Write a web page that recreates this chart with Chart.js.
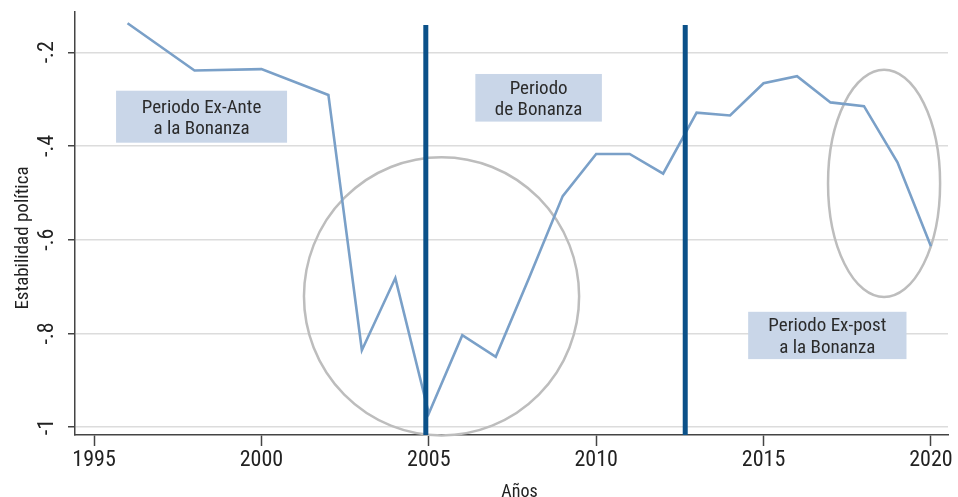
<!DOCTYPE html>
<html>
<head>
<meta charset="utf-8">
<script src="https://cdn.jsdelivr.net/npm/chart.js@4.4.1/dist/chart.umd.min.js"></script>
<style>
  html, body { margin: 0; padding: 0; background: #ffffff; }
  #wrap { width: 958px; height: 497px; }
</style>
</head>
<body>
<div id="wrap"><canvas id="c" width="958" height="497"></canvas></div>
<script>
// ---- data ----
const years = [1996, 1998, 2000, 2002, 2003, 2004, 2005, 2006, 2007, 2008, 2009, 2010, 2011, 2012, 2013, 2014, 2015, 2016, 2017, 2018, 2019, 2020];
const stability = [-0.138, -0.239, -0.236, -0.291, -0.836, -0.682, -0.971, -0.804, -0.850, -0.681, -0.507, -0.417, -0.417, -0.459, -0.329, -0.335, -0.266, -0.251, -0.307, -0.315, -0.435, -0.614];
const bonanzaStart = 2004.91;
const bonanzaEnd = 2012.66;
const xTicks = [1995, 2000, 2005, 2010, 2015, 2020];
const yTicks = [-1, -0.8, -0.6, -0.4, -0.2];
const yTickLabels = ['-1', '-.8', '-.6', '-.4', '-.2'];
const xTitle = 'Años';
const yTitle = 'Estabilidad política';
const boxTexts = [
  ['Periodo Ex-Ante', 'a la Bonanza'],
  ['Periodo', 'de Bonanza'],
  ['Periodo Ex-post', 'a la Bonanza']
];

const FONT = "'Liberation Sans Narrow', 'Arial Narrow', 'Roboto Condensed', 'DejaVu Sans Condensed', sans-serif";
const xMin = 1994.43, xMax = 2020.51, yMin = -1.017, yMax = -0.114;
const lineTop = -0.142;

// annotation geometry (data units)
const boxes = [
  { x0: 1995.657, x1: 2000.765, y0: -0.282, y1: -0.393, text: boxTexts[0] },
  { x0: 2006.39, x1: 2010.17, y0: -0.2463, y1: -0.348, text: boxTexts[1] },
  { x0: 2014.54, x1: 2019.27, y0: -0.754, y1: -0.855, text: boxTexts[2] }
];
const ellipses = [
  { cx: 2005.38, cy: -0.721, rx: 4.11, ry: 0.297 },
  { cx: 2018.6, cy: -0.480, rx: 1.674, ry: 0.2425 }
];

const seriesPoints = years.map((y, i) => ({ x: y, y: stability[i] }));

const annotPlugin = {
  id: 'annot',
  beforeDatasetsDraw(chart) {
    const { ctx } = chart;
    const xs = chart.scales.x, ys = chart.scales.y;
    ctx.save();
    ctx.strokeStyle = '#bdbdbd';
    ctx.lineWidth = 2.5;
    ellipses.forEach(e => {
      const cx = xs.getPixelForValue(e.cx);
      const cy = ys.getPixelForValue(e.cy);
      const rx = Math.abs(xs.getPixelForValue(e.cx + e.rx) - cx);
      const ry = Math.abs(ys.getPixelForValue(e.cy + e.ry) - cy);
      ctx.beginPath();
      ctx.ellipse(cx, cy, rx, ry, 0, 0, Math.PI * 2);
      ctx.stroke();
    });
    ctx.restore();
  },
  afterDatasetsDraw(chart) {
    const { ctx } = chart;
    const xs = chart.scales.x, ys = chart.scales.y;
    ctx.save();
    boxes.forEach(b => {
      const x0 = xs.getPixelForValue(b.x0), x1 = xs.getPixelForValue(b.x1);
      const y0 = ys.getPixelForValue(b.y0), y1 = ys.getPixelForValue(b.y1);
      ctx.fillStyle = '#c9d6e8';
      ctx.fillRect(x0, y0, x1 - x0, y1 - y0);
      ctx.fillStyle = '#2b2b2b';
      ctx.font = '19px ' + FONT;
      ctx.textAlign = 'center';
      ctx.textBaseline = 'alphabetic';
      const cx = (x0 + x1) / 2, cy = (y0 + y1) / 2;
      const lh = 21.7;
      b.text.forEach((t, i) => {
        const base = cy + (i - (b.text.length - 1) / 2) * lh + 6.8;
        ctx.fillText(t, cx, base);
      });
    });
    ctx.restore();
  },
  afterDraw(chart) {
    const { ctx } = chart;
    const xs = chart.scales.x, ys = chart.scales.y;
    ctx.save();
    ctx.fillStyle = '#222';
    ctx.textAlign = 'center';
    ctx.textBaseline = 'alphabetic';
    // y tick labels (rotated)
    ctx.font = '22px ' + FONT;
    yTicks.forEach((v, i) => {
      const py = ys.getPixelForValue(v);
      ctx.save();
      ctx.translate(53, py);
      ctx.rotate(-Math.PI / 2);
      ctx.fillText(yTickLabels[i], 0, 0);
      ctx.restore();
    });
    // y title
    ctx.font = '19px ' + FONT;
    ctx.save();
    ctx.translate(27.5, 238);
    ctx.rotate(-Math.PI / 2);
    ctx.fillText(yTitle, 0, 0);
    ctx.restore();
    // x title
    ctx.font = '18px ' + FONT;
    ctx.fillText(xTitle, 519.5, 496.5);
    ctx.restore();
  }
};

new Chart(document.getElementById('c'), {
  type: 'line',
  data: {
    datasets: [
      {
        label: 'inicio',
        data: [{ x: bonanzaStart, y: yMin }, { x: bonanzaStart, y: lineTop }],
        borderColor: '#0b5189',
        borderWidth: 5,
        pointRadius: 0,
        borderCapStyle: 'butt'
      },
      {
        label: 'fin',
        data: [{ x: bonanzaEnd, y: yMin }, { x: bonanzaEnd, y: lineTop }],
        borderColor: '#0b5189',
        borderWidth: 5,
        pointRadius: 0,
        borderCapStyle: 'butt'
      },
      {
        label: yTitle,
        data: seriesPoints,
        borderColor: '#7aa0c8',
        borderWidth: 2.6,
        pointRadius: 0,
        tension: 0,
        borderJoinStyle: 'miter'
      }
    ]
  },
  options: {
    responsive: false,
    animation: false,
    devicePixelRatio: 1,
    layout: { padding: { top: 12, right: 10, left: 0, bottom: 0 } },
    plugins: { legend: { display: false }, tooltip: { enabled: false } },
    scales: {
      x: {
        type: 'linear',
        min: xMin,
        max: xMax,
        afterBuildTicks: s => { s.ticks = xTicks.map(v => ({ value: v })); },
        afterFit: s => { s.height = 62; },
        ticks: {
          font: { size: 22, family: FONT },
          color: '#222',
          padding: 1.5,
          maxRotation: 0,
          minRotation: 0,
          callback: v => String(v)
        },
        grid: {
          drawOnChartArea: false,
          drawTicks: true,
          tickLength: 11,
          tickColor: '#444',
          tickWidth: 1.5
        },
        border: { display: true, color: '#444', width: 1.5 }
      },
      y: {
        type: 'linear',
        min: yMin,
        max: yMax,
        afterBuildTicks: s => { s.ticks = yTicks.map(v => ({ value: v })); },
        afterFit: s => { s.width = 75; },
        ticks: { display: false },
        grid: {
          color: '#dcdcdc',
          lineWidth: 1.5,
          drawTicks: true,
          tickLength: 7,
          tickColor: '#444',
          tickWidth: 1.5
        },
        border: { display: true, color: '#444', width: 1.5 }
      }
    }
  },
  plugins: [annotPlugin]
});
</script>
</body>
</html>
